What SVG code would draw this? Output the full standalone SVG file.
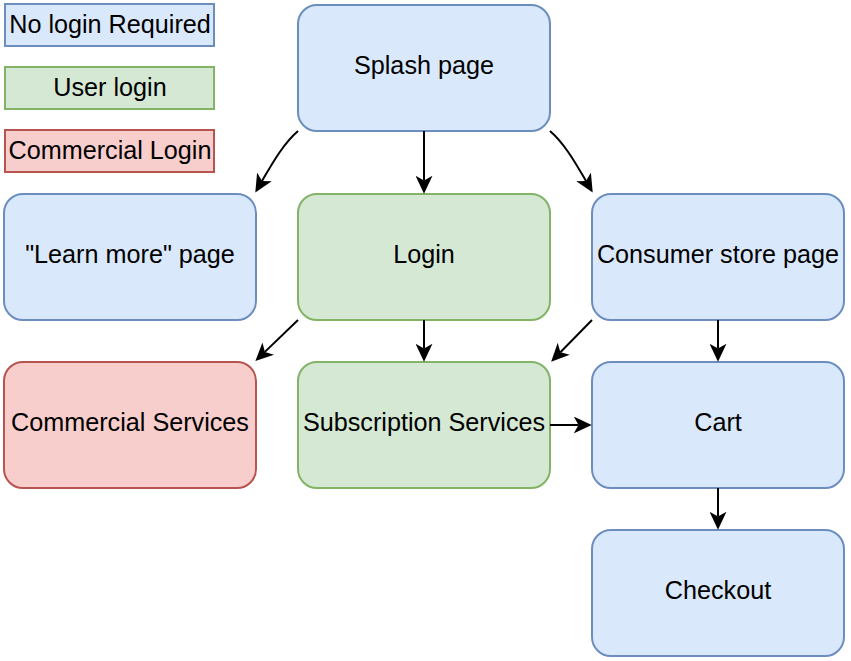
<svg xmlns="http://www.w3.org/2000/svg" width="851" height="661" viewBox="0 0 851 661">
<style>
text{font-family:"Liberation Sans",Arial,sans-serif;font-size:25.2px;fill:#000;text-anchor:middle}
.b{fill:#dae8fc;stroke:#6c8ebf;stroke-width:2}
.g{fill:#d5e8d4;stroke:#82b366;stroke-width:2}
.r{fill:#f8cecc;stroke:#b85450;stroke-width:2}
.e{fill:none;stroke:#000;stroke-width:2;marker-end:url(#arr)}
</style>
<defs>
<marker id="arr" markerUnits="userSpaceOnUse" markerWidth="18" markerHeight="17" viewBox="0 0 17 16" refX="4.5" refY="8" orient="auto">
<path d="M17,8 L0,0 L4.5,8 L0,16 Z" fill="#000"/>
</marker>
</defs>
<g id="legend-none"><rect class="b" x="5" y="4" width="209" height="42"/><text x="110" y="33">No login Required</text></g>
<g id="legend-user"><rect class="g" x="5" y="67" width="209" height="42"/><text x="110" y="96">User login</text></g>
<g id="legend-commercial"><rect class="r" x="5" y="130" width="209" height="42"/><text x="110" y="159">Commercial Login</text></g>

<g id="splash"><rect class="b" x="298" y="5" width="252" height="126" rx="19"/><text x="424" y="74">Splash page</text></g>
<g id="learn"><rect class="b" x="4" y="194" width="252" height="126" rx="19"/><text x="130" y="263">"Learn more" page</text></g>
<g id="login"><rect class="g" x="298" y="194" width="252" height="126" rx="19"/><text x="424" y="263">Login</text></g>
<g id="consumer"><rect class="b" x="592" y="194" width="252" height="126" rx="19"/><text x="718" y="263">Consumer store page</text></g>
<g id="commercial"><rect class="r" x="4" y="362" width="252" height="126" rx="19"/><text x="130" y="431">Commercial Services</text></g>
<g id="subscription"><rect class="g" x="298" y="362" width="252" height="126" rx="19"/><text x="424" y="431">Subscription Services</text></g>
<g id="cart"><rect class="b" x="592" y="362" width="252" height="126" rx="19"/><text x="718" y="431">Cart</text></g>
<g id="checkout"><rect class="b" x="592" y="530" width="252" height="126" rx="19"/><text x="718" y="599">Checkout</text></g>

<g id="connectors">
<path class="e" d="M298,131 C283,144 272,164 262,181"/>
<path class="e" d="M550,131 C565,144 576,164 586,181"/>
<path class="e" d="M424,131 L424,180.5"/>
<path class="e" d="M298,320 L264.9,351.9"/>
<path class="e" d="M424,320 L424,348.5"/>
<path class="e" d="M592,320 L560.4,352.2"/>
<path class="e" d="M718,320 L718,348.5"/>
<path class="e" d="M550,425 L578.5,425"/>
<path class="e" d="M718,488 L718,516.5"/>
</g>
</svg>
